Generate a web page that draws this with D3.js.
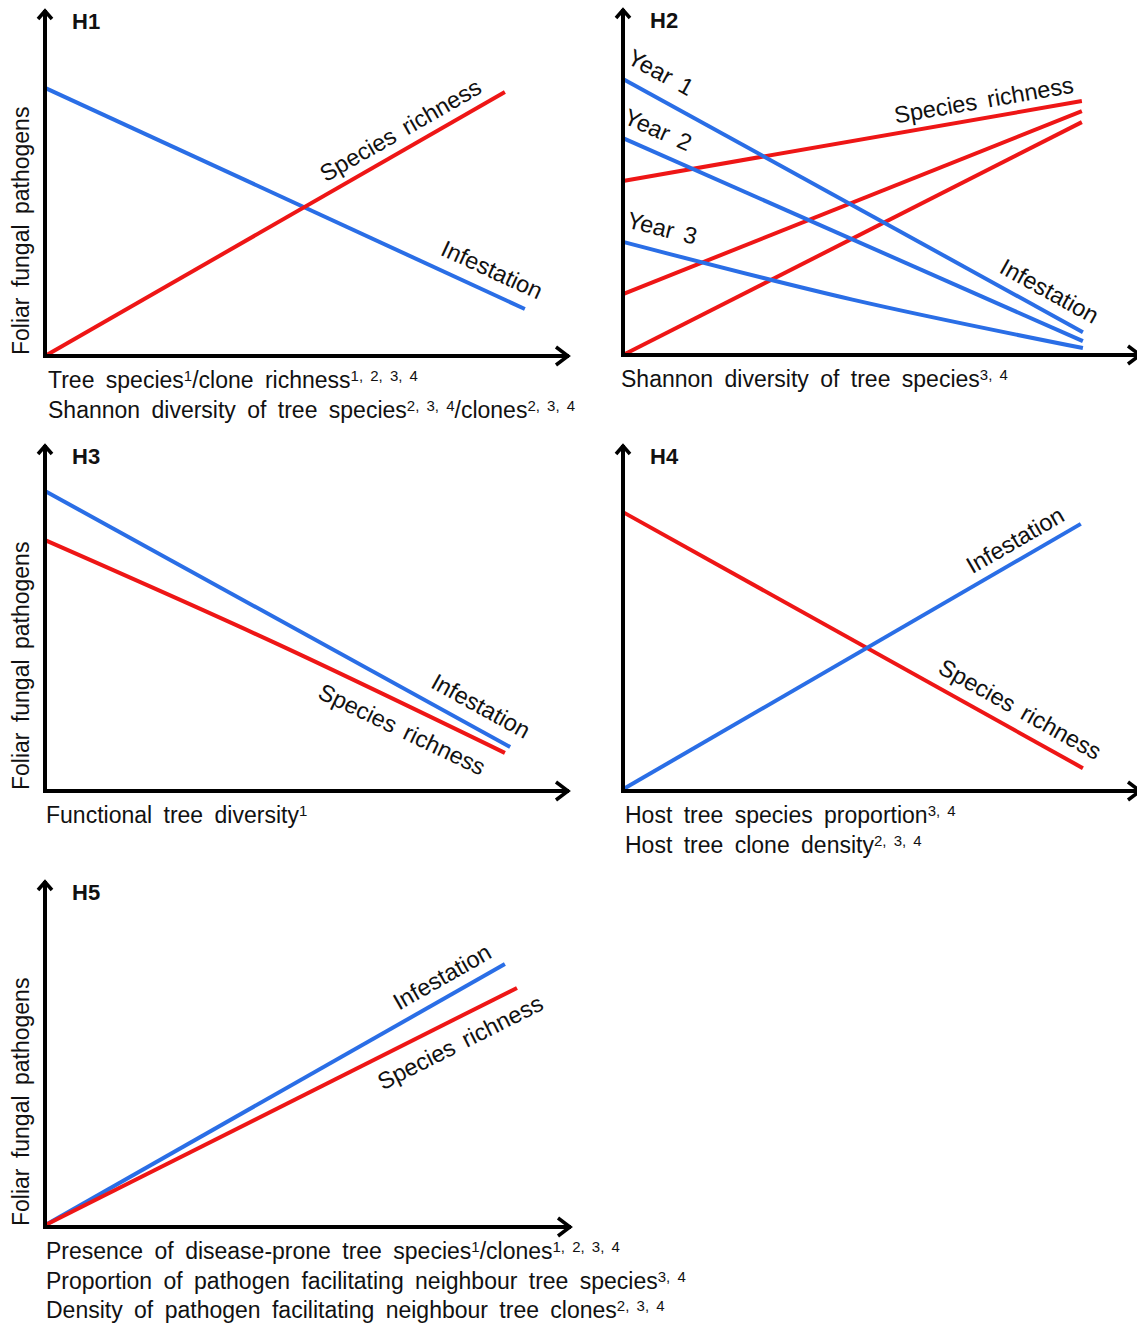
<!DOCTYPE html>
<html>
<head>
<meta charset="utf-8">
<script src="https://cdn.jsdelivr.net/npm/d3@7"></script>
<style>
  body { margin: 0; background: #fff; }
  text { font-family: "Liberation Sans", Arial, sans-serif; fill: #111; }
</style>
</head>
<body>
<div id="chart"></div>
<script>
// ---- data (0-100 conceptual units on both axes) ----
const yAxisLabel = "Foliar fungal pathogens";
const lineNames = ["Species richness", "Infestation"];
const yearNames = ["Year 1", "Year 2", "Year 3"];

// H1
const h1InfestX = [0, 91.4], h1InfestY = [77.5, 13.6];
const h1RichX = [0, 87.6], h1RichY = [0, 76.3];
// H2
const h2RichX = [0, 87.4];
const h2RichTopY = [50.3, 73.4];
const h2RichMidY = [17.6, 70.5];
const h2RichLowY = [0, 67.3];
const h2Year1X = [0, 87.6], h2Year1Y = [79.8, 6.6];
const h2Year2X = [0, 87.6], h2Year2Y = [62.7, 4.0];
const h2Year3X = [0, 43.7, 87.6], h2Year3Y = [32.7, 16.0, 2.0];
// H3
const h3InfestX = [0, 88.6], h3InfestY = [86.7, 12.7];
const h3RichX = [0, 43.8, 87.6], h3RichY = [72.5, 42.8, 11.0];
// H4
const h4RichX = [0, 87.6], h4RichY = [80.6, 6.6];
const h4InfestX = [0, 87.2], h4InfestY = [0.5, 77.2];
// H5
const h5InfestX = [0, 87.6], h5InfestY = [0.5, 76.0];
const h5RichX = [0, 89.9], h5RichY = [0.5, 69.1];

// x-axis captions: alternating [normal, superscript, normal, superscript...]
const h1Captions = [
  ["Tree species", "1", "/clone richness", "1, 2, 3, 4"],
  ["Shannon diversity of tree species", "2, 3, 4", "/clones", "2, 3, 4"]
];
const h2Captions = [["Shannon diversity of tree species", "3, 4"]];
const h3Captions = [["Functional tree diversity", "1"]];
const h4Captions = [
  ["Host tree species proportion", "3, 4"],
  ["Host tree clone density", "2, 3, 4"]
];
const h5Captions = [
  ["Presence of disease-prone tree species", "1", "/clones", "1, 2, 3, 4"],
  ["Proportion of pathogen facilitating neighbour tree species", "3, 4"],
  ["Density of pathogen facilitating neighbour tree clones", "2, 3, 4"]
];

const RED = "#ee1616";
const BLUE = "#2a6ee6";

const svg = d3.select("#chart").append("svg")
  .attr("width", 1137)
  .attr("height", 1324);

function drawPanel(p) {
  const g = svg.append("g");
  const x = d3.scaleLinear().domain([0, 100]).range([p.ox, p.ox + 525]);
  const y = d3.scaleLinear().domain([0, 100]).range([p.oy, p.oy - 346]);

  // series lines
  p.series.forEach(s => {
    const pts = s.xs.map((v, i) => [v, s.ys[i]]);
    const line = d3.line()
      .x(d => x(d[0]))
      .y(d => y(d[1]))
      .curve(pts.length > 2 ? d3.curveMonotoneX : d3.curveLinear);
    g.append("path")
      .datum(pts)
      .attr("fill", "none")
      .attr("stroke", s.color)
      .attr("stroke-width", 4)
      .attr("d", line);
  });

  // axes with open arrow heads
  const axisLen = p.axisLen || 525;
  const tipX = p.ox + axisLen, tipY = p.oy - 347;
  g.append("line")
    .attr("x1", p.ox).attr("y1", p.oy + 2)
    .attr("x2", p.ox).attr("y2", tipY + 1)
    .attr("stroke", "#000").attr("stroke-width", 4);
  g.append("line")
    .attr("x1", p.ox - 2).attr("y1", p.oy)
    .attr("x2", tipX - 1).attr("y2", p.oy)
    .attr("stroke", "#000").attr("stroke-width", 4);
  g.append("path")
    .attr("d", `M${p.ox - 7},${tipY + 10} L${p.ox},${tipY + 2} L${p.ox + 7},${tipY + 10}`)
    .attr("fill", "none").attr("stroke", "#000").attr("stroke-width", 3.5)
    .attr("stroke-linejoin", "miter");
  g.append("path")
    .attr("d", `M${tipX - 14},${p.oy - 9} L${tipX - 2},${p.oy} L${tipX - 14},${p.oy + 9}`)
    .attr("fill", "none").attr("stroke", "#000").attr("stroke-width", 3.5)
    .attr("stroke-linejoin", "miter");

  // panel title
  g.append("text")
    .attr("x", p.ox + 27).attr("y", tipY + 20)
    .attr("font-size", 22).attr("font-weight", "bold")
    .text(p.title);

  // y-axis label
  if (p.yLabel) {
    g.append("text")
      .attr("transform", `translate(${p.ox - 16},${p.oy - 1}) rotate(-90)`)
      .attr("font-size", 23)
      .attr("word-spacing", 4)
      .text(yAxisLabel);
  }

  // x-axis captions
  p.captions.forEach((parts, i) => {
    const t = g.append("text")
      .attr("x", p.ox + p.capDx).attr("y", p.oy + 32 + i * 29.5)
      .attr("font-size", 23)
      .attr("word-spacing", 5);
    parts.forEach((part, j) => {
      const ts = t.append("tspan").text(part);
      if (j % 2 === 1) ts.attr("font-size", 15).attr("baseline-shift", "50%").attr("word-spacing", 3);
    });
  });

  // labels along lines
  p.labels.forEach(l => {
    const s = p.series[l.series];
    const f = d3.scaleLinear().domain(s.xs).range(s.ys);
    const px = x(l.at), py = y(f(l.at));
    const ang = Math.atan2(y(f(l.at + 2)) - y(f(l.at - 2)), x(l.at + 2) - x(l.at - 2));
    const nx = Math.sin(ang), ny = -Math.cos(ang);
    const cx = px + nx * l.off, cy = py + ny * l.off;
    g.append("text")
      .attr("transform", `translate(${cx},${cy}) rotate(${ang * 180 / Math.PI})`)
      .attr("text-anchor", "middle")
      .attr("dy", "0.35em")
      .attr("font-size", 23.5)
      .attr("word-spacing", 4)
      .text(l.text);
  });
}

drawPanel({
  title: "H1", ox: 45, oy: 356, yLabel: true, capDx: 3, captions: h1Captions,
  series: [
    { xs: h1InfestX, ys: h1InfestY, color: BLUE },
    { xs: h1RichX, ys: h1RichY, color: RED }
  ],
  labels: [
    { text: lineNames[0], series: 1, at: 69.5, off: 19 },
    { text: lineNames[1], series: 0, at: 83.4, off: 22 }
  ]
});

drawPanel({
  title: "H2", ox: 623, oy: 355, yLabel: false, capDx: -2, captions: h2Captions, axisLen: 519,
  series: [
    { xs: h2RichX, ys: h2RichTopY, color: RED },
    { xs: h2RichX, ys: h2RichMidY, color: RED },
    { xs: h2RichX, ys: h2RichLowY, color: RED },
    { xs: h2Year1X, ys: h2Year1Y, color: BLUE },
    { xs: h2Year2X, ys: h2Year2Y, color: BLUE },
    { xs: h2Year3X, ys: h2Year3Y, color: BLUE }
  ],
  labels: [
    { text: lineNames[0], series: 0, at: 69.3, off: 18 },
    { text: lineNames[1], series: 3, at: 79.4, off: 20 },
    { text: yearNames[0], series: 3, at: 5.0, off: 24 },
    { text: yearNames[1], series: 4, at: 5.0, off: 22 },
    { text: yearNames[2], series: 5, at: 6.4, off: 23 }
  ]
});

drawPanel({
  title: "H3", ox: 45, oy: 791, yLabel: true, capDx: 1, captions: h3Captions,
  series: [
    { xs: h3InfestX, ys: h3InfestY, color: BLUE },
    { xs: h3RichX, ys: h3RichY, color: RED }
  ],
  labels: [
    { text: lineNames[1], series: 0, at: 81, off: 22 },
    { text: lineNames[0], series: 1, at: 69.9, off: -23 }
  ]
});

drawPanel({
  title: "H4", ox: 623, oy: 791, yLabel: false, capDx: 2, captions: h4Captions, axisLen: 519,
  series: [
    { xs: h4RichX, ys: h4RichY, color: RED },
    { xs: h4InfestX, ys: h4InfestY, color: BLUE }
  ],
  labels: [
    { text: lineNames[1], series: 1, at: 76.5, off: 19 },
    { text: lineNames[0], series: 0, at: 73.7, off: 21 }
  ]
});

drawPanel({
  title: "H5", ox: 45, oy: 1227, yLabel: true, capDx: 1, captions: h5Captions, axisLen: 527,
  series: [
    { xs: h5InfestX, ys: h5InfestY, color: BLUE },
    { xs: h5RichX, ys: h5RichY, color: RED }
  ],
  labels: [
    { text: lineNames[1], series: 0, at: 77.5, off: 20 },
    { text: lineNames[0], series: 1, at: 77.1, off: -23 }
  ]
});
</script>
</body>
</html>
